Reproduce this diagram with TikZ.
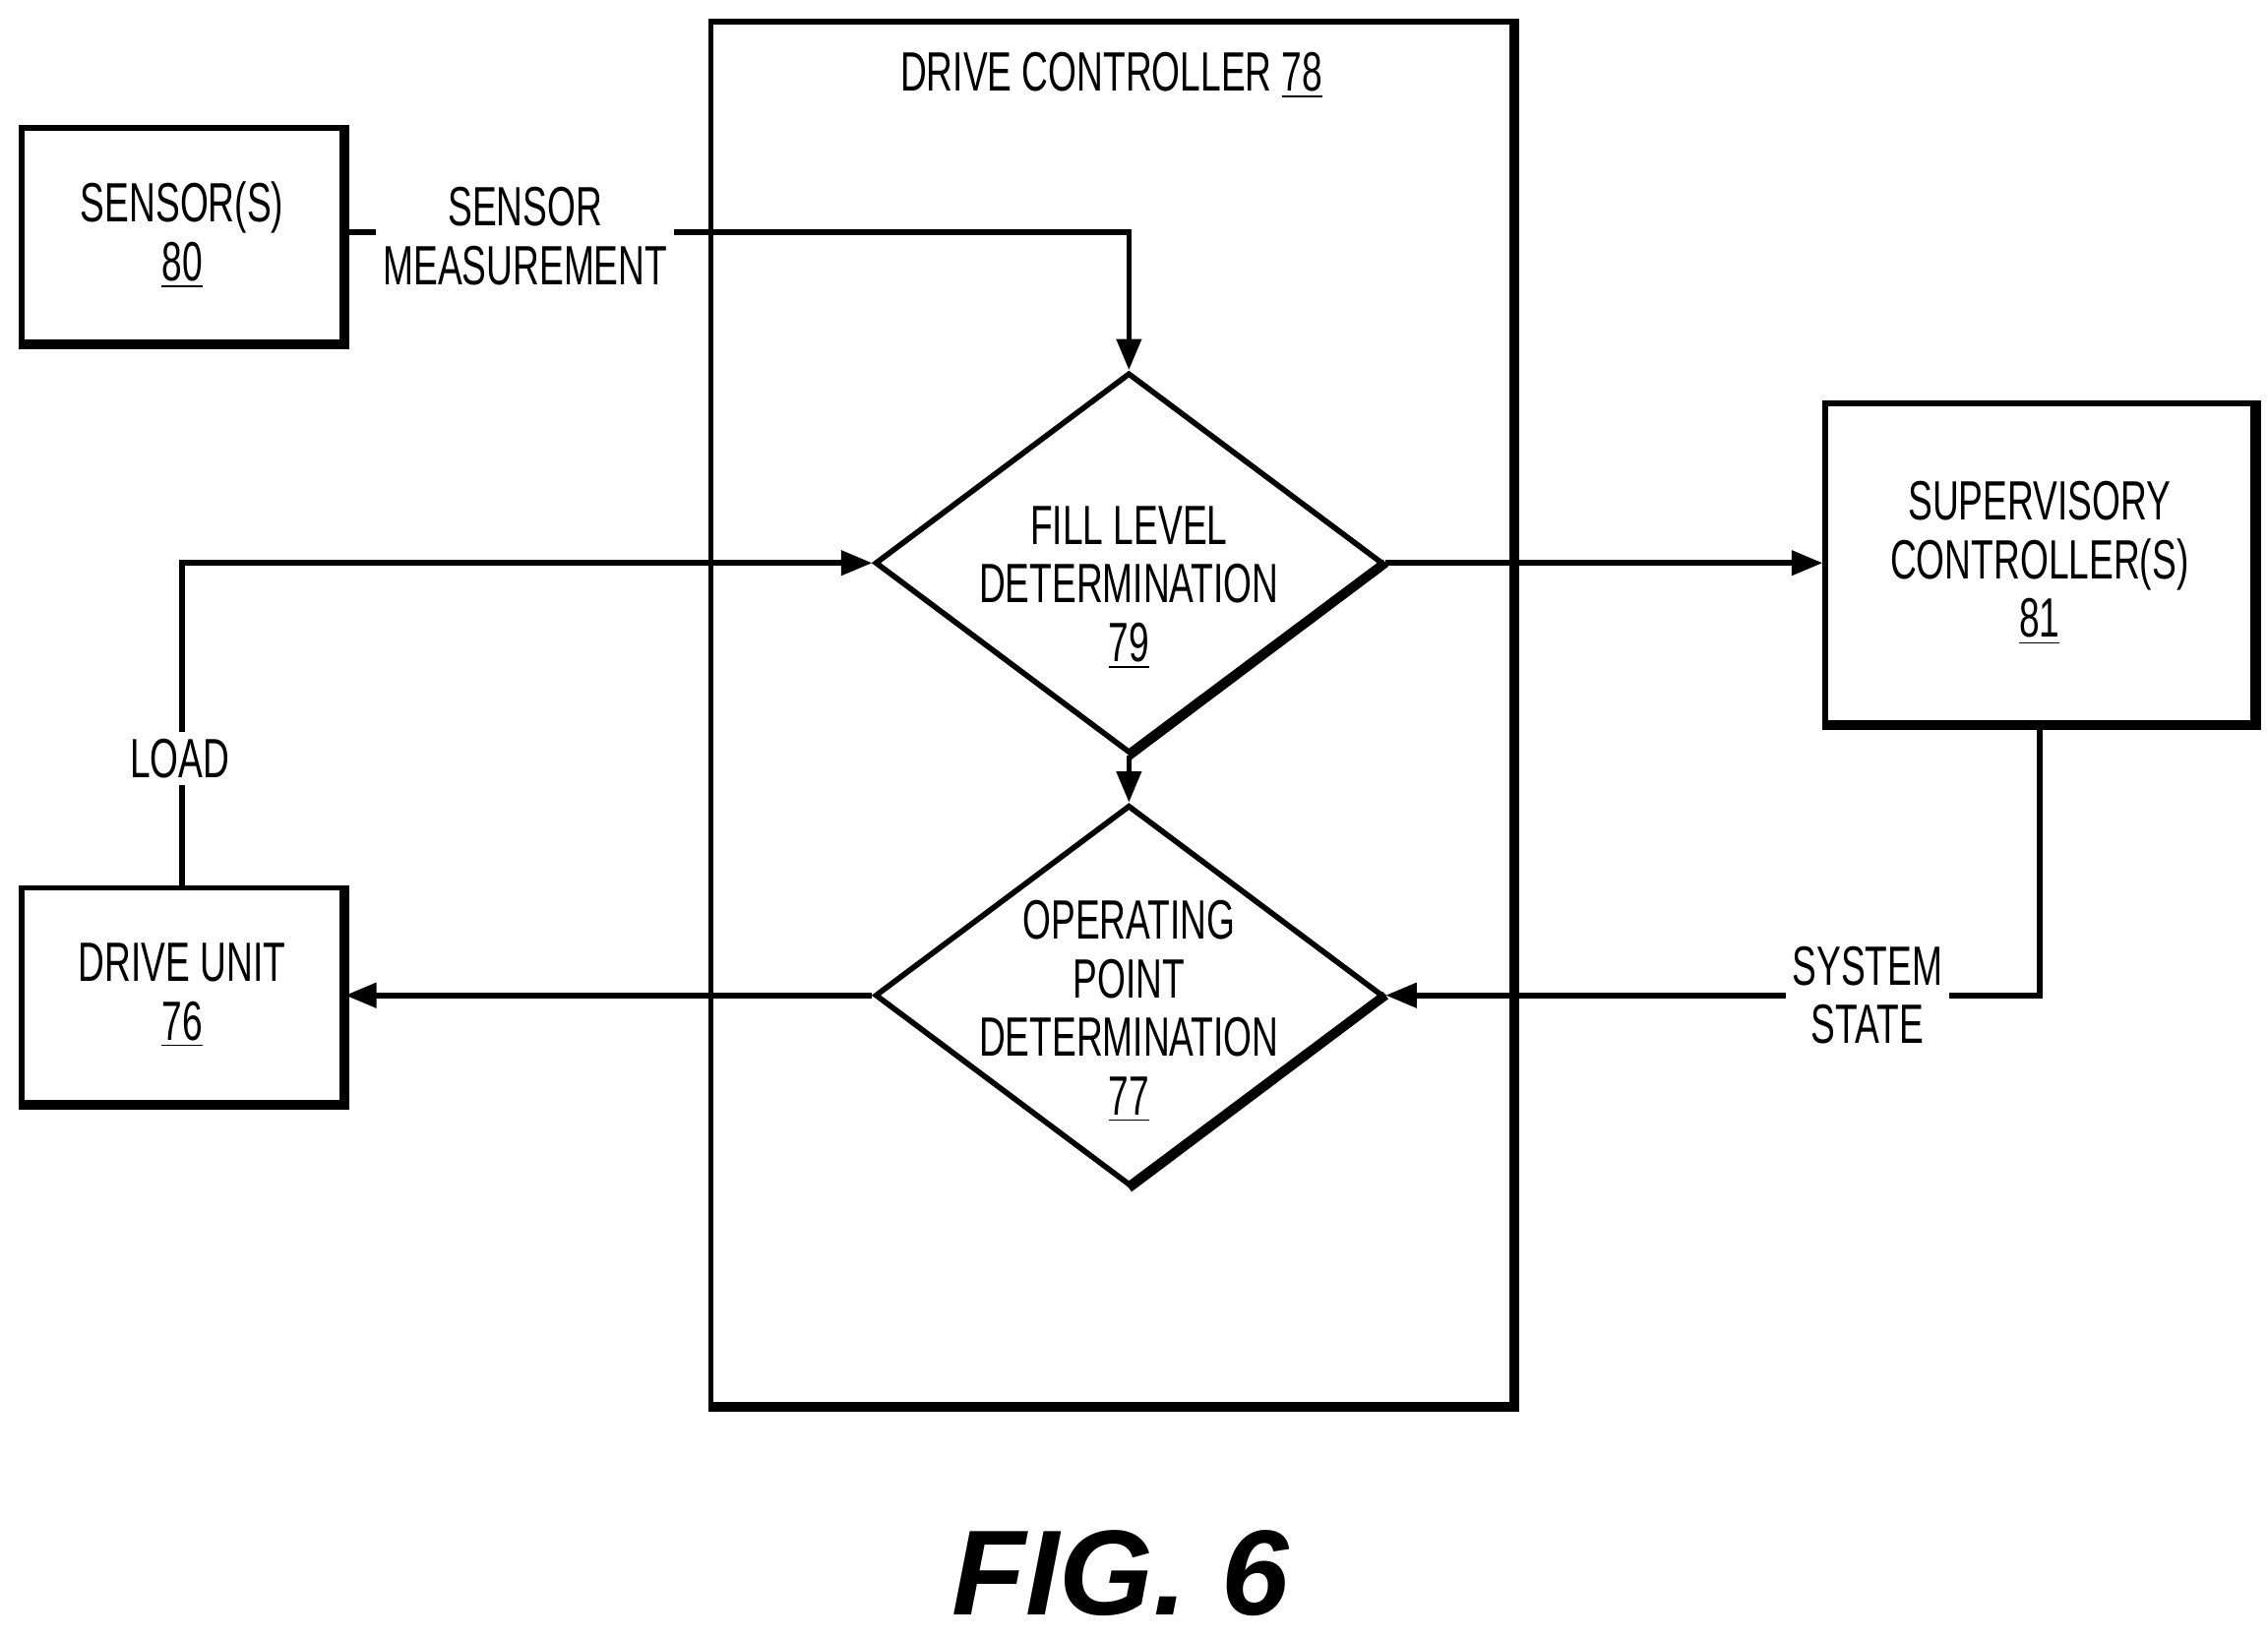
\documentclass[tikz,border=0pt]{standalone}
\usepackage{fontspec}
\setmainfont{Liberation Sans}[FakeStretch=0.66]
\newfontfamily\figfont{Liberation Sans}
\usetikzlibrary{shapes.geometric,arrows.meta}
\begin{document}
\begin{tikzpicture}[x=0.014747cm,y=-0.014747cm,
  lw/.style={line width=1.6pt},
  box/.style={draw,lw,minimum width=221*0.014747cm,minimum height=148*0.014747cm,align=center,font=\fontsize{16}{17}\selectfont},
  dia/.style={draw,lw,diamond,minimum width=350*0.014747cm,minimum height=262*0.014747cm,inner sep=0pt,aspect=1.34},
  lbl/.style={fill=white,align=center,font=\fontsize{16}{17}\selectfont,inner sep=2pt},
  arr/.style={lw,-{Triangle[length=9pt,width=7pt]}}]
\useasboundingbox (0,0) rectangle (1563,1130);
\node[draw,lw,minimum width=552*0.014747cm,minimum height=953*0.014747cm,inner sep=0pt] (dc) at (766,491.5) {};
\draw[line width=2.6pt] (dc.north east)--(dc.south east)--(dc.south west);
\node[lbl,fill=none] (dct) at (766,52) {DRIVE CONTROLLER \underline{78}};
\node[box] (sen) at (125.5,162) {SENSOR(S)\\\underline{80}};
\node[box] (du) at (125.5,686) {DRIVE UNIT\\\underline{76}};
\node[box,minimum width=295*0.014747cm,minimum height=220*0.014747cm] (sup) at (1405.5,388) {SUPERVISORY\\CONTROLLER(S)\\\underline{81}};
\foreach \n in {sen,du,sup}{\draw[line width=2.6pt] (\n.north east)--(\n.south east)--(\n.south west);}
\node[dia] (fl) at (778,388) {};
\node[lbl,fill=none] at (778,405) {FILL LEVEL\\DETERMINATION\\\underline{79}};
\node[dia] (op) at (778,686) {};
\node[lbl,fill=none] at (778,697) {OPERATING\\POINT\\DETERMINATION\\\underline{77}};
\draw[line width=2.6pt] (fl.east)--(fl.south);
\draw[line width=2.6pt] (op.east)--(op.south);
\draw[arr] (sen.east|-0,160) -| (fl.north);
\node[lbl] (sm) at (362,163) {SENSOR\\MEASUREMENT};
\draw[arr] (fl.south)--(op.north);
\draw[arr] (fl.east)--(sup.west|-fl.east);
\draw[arr] (sup.south) |- (op.east);
\node[lbl] (ss) at (1287,686) {SYSTEM\\STATE};
\draw[arr] (op.west)--(du.east|-op.west);
\draw[arr] (du.north) |- (fl.west);
\node[lbl] (ld) at (124,523) {LOAD};
\node (fig) at (772,1084) {\figfont\fontsize{35}{40}\selectfont\bfseries\itshape FIG. 6};
\end{tikzpicture}
\end{document}
